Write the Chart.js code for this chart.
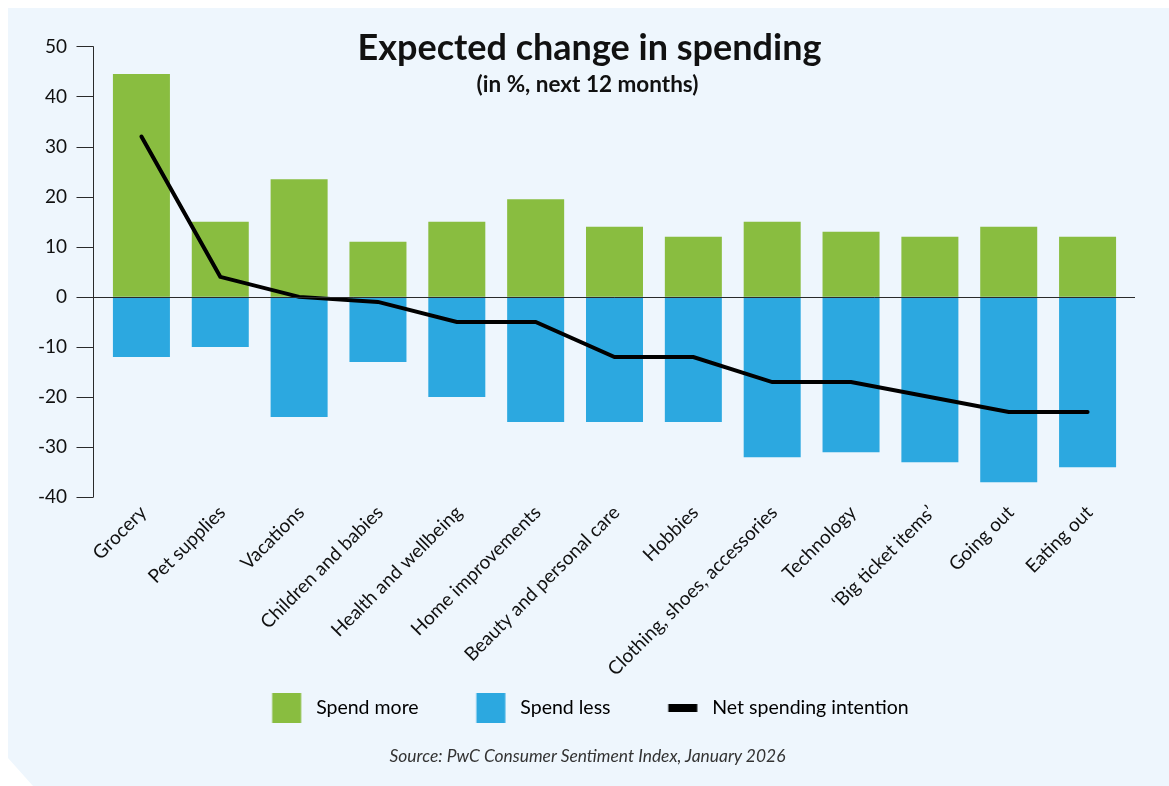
<!DOCTYPE html>
<html>
<head>
<meta charset="utf-8">
<title>Expected change in spending</title>
<script src="https://cdn.jsdelivr.net/npm/chart.js@4.4.1/dist/chart.umd.min.js"></script>
<style>
  html, body { margin: 0; padding: 0; background: #fff; }
  #wrap { position: relative; width: 1169px; height: 786px; overflow: hidden; }
  #panel {
    position: absolute; left: 8px; top: 8px; right: 0; bottom: 0;
    background: #eef6fd;
    clip-path: polygon(0 0, 100% 0, 100% 100%, 25px 100%, 0 calc(100% - 28px));
  }
  canvas { position: absolute; left: 0; top: 0; }
  .txt {
    position: absolute; left: 3px; width: 1169px; text-align: center;
    font-family: Lato, sans-serif; color: #111; white-space: nowrap;
  }
  #title { top: 24px; left: 5px; font-size: 36px; font-weight: 700; line-height: 44px; }
  #subtitle { top: 71px; font-size: 22.5px; font-weight: 700; line-height: 26px; }
  #source { top: 746px; font-size: 17.4px; font-style: italic; color: #333; line-height: 20px; }
</style>
</head>
<body>
<div id="wrap">
  <div id="panel"></div>
  <canvas id="spending" width="1169" height="786"></canvas>
  <div class="txt" id="title">Expected change in spending</div>
  <div class="txt" id="subtitle">(in %, next 12 months)</div>
  <div class="txt" id="source">Source: PwC Consumer Sentiment Index, January 2026</div>
</div>
<script>
const categories = ['Grocery', 'Pet supplies', 'Vacations', 'Children and babies', 'Health and wellbeing',
  'Home improvements', 'Beauty and personal care', 'Hobbies', 'Clothing, shoes, accessories',
  'Technology', '\u2018Big ticket items\u2019', 'Going out', 'Eating out'];
const spendMore = [44.5, 15, 23.5, 11, 15, 19.5, 14, 12, 15, 13, 12, 14, 12];
const spendLess = [-12, -10, -24, -13, -20, -25, -25, -25, -32, -31, -33, -37, -34];
const netIntention = [32, 4, 0, -1, -5, -5, -12, -12, -17, -17, -20, -23, -23];
const yTicks = [50, 40, 30, 20, 10, 0, -10, -20, -30, -40];

const green = '#89bd40';
const blue = '#2ca8e0';

Chart.defaults.font.family = 'Lato, sans-serif';
Chart.defaults.color = '#111';

// legend key: coloured block sits at the right end of a wider transparent slot
const KEY_W = 82;
function swatch(h, color, fh) {
  const c = document.createElement('canvas');
  c.width = KEY_W; c.height = h;
  const g = c.getContext('2d');
  g.fillStyle = color;
  g.fillRect(KEY_W - 34.25, (h - fh) / 2, 29, fh);
  return c;
}
const swatches = [swatch(30, green, 30), swatch(30, blue, 30), swatch(8, '#000', 8)];

// y axis line with outside ticks, plus the zero line over the bars
const axisLines = {
  id: 'axisLines',
  afterDatasetsDraw(chart) {
    const {ctx, chartArea, scales: {y}} = chart;
    const ax = Math.round(chartArea.left - 9) + 0.5;
    ctx.save();
    ctx.strokeStyle = '#2a2a2a';
    ctx.lineWidth = 1;
    ctx.beginPath();
    ctx.moveTo(ax, y.getPixelForValue(yTicks[0]));
    ctx.lineTo(ax, y.getPixelForValue(yTicks[yTicks.length - 1]));
    yTicks.forEach(v => {
      const p = Math.round(y.getPixelForValue(v)) + 0.5;
      ctx.moveTo(ax - 17, p);
      ctx.lineTo(ax, p);
    });
    const z = Math.round(y.getPixelForValue(0)) + 0.5;
    ctx.moveTo(ax, z);
    ctx.lineTo(chartArea.right + 8, z);
    ctx.stroke();
    ctx.restore();
  }
};

new Chart(document.getElementById('spending'), {
  type: 'bar',
  data: {
    labels: categories,
    datasets: [{
      type: 'line',
      label: 'Net spending intention',
      data: netIntention,
      borderColor: '#000',
      backgroundColor: '#000',
      borderWidth: 4,
      borderCapStyle: 'round',
      pointRadius: 0,
      tension: 0,
      order: 0
    }, {
      label: 'Spend more',
      data: spendMore,
      backgroundColor: green,
      order: 1
    }, {
      label: 'Spend less',
      data: spendLess,
      backgroundColor: blue,
      order: 1
    }]
  },
  options: {
    responsive: false,
    animation: false,
    events: [],
    layout: { padding: { top: 45.2, left: 6, right: 42, bottom: 58.25 } },
    datasets: { bar: { categoryPercentage: 1, barPercentage: 0.723 } },
    scales: {
      x: {
        stacked: true,
        grid: { display: false, drawTicks: false },
        border: { display: false },
        ticks: {
          autoSkip: false,
          minRotation: 45,
          maxRotation: 45,
          padding: 4,
          labelOffset: 2,
          color: '#111',
          font: { size: 19 }
        },
        afterFit: s => { s.height = 191; }
      },
      y: {
        min: -40,
        max: 50,
        grid: { display: false, drawTicks: false },
        border: { display: false },
        ticks: { stepSize: 10, padding: 35, color: '#111', font: { size: 19 } },
        afterFit: s => { s.width = 96; }
      }
    },
    plugins: {
      tooltip: { enabled: false },
      legend: {
        position: 'bottom',
        labels: {
          usePointStyle: true,
          pointStyleWidth: KEY_W,
          boxWidth: KEY_W,
          boxHeight: 19.5,
          padding: 10,
          color: '#111',
          font: { size: 19.5 },
          generateLabels: chart => ['Spend more', 'Spend less', 'Net spending intention'].map((t, i) => ({
            text: t,
            fillStyle: 'rgba(0,0,0,0)',
            strokeStyle: 'rgba(0,0,0,0)',
            lineWidth: 0,
            pointStyle: swatches[i],
            hidden: false,
            datasetIndex: i
          }))
        }
      }
    }
  },
  plugins: [axisLines]
});
</script>
</body>
</html>
